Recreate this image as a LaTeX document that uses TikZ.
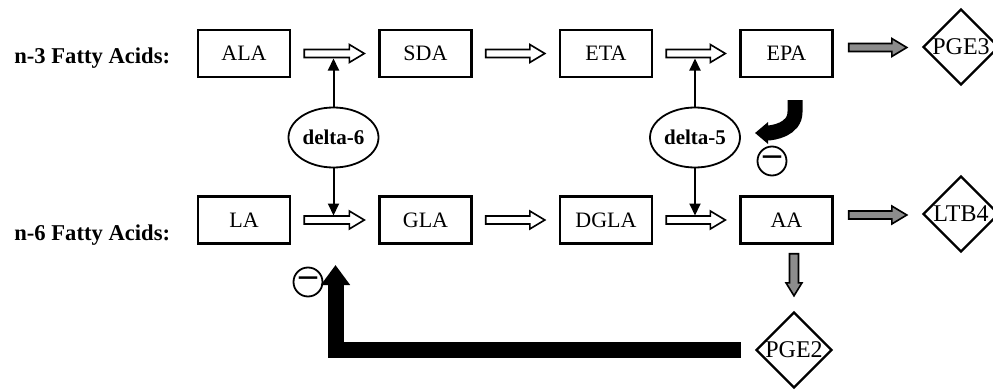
\documentclass[tikz,border=0pt]{standalone}
\usepackage{fontspec}
\setmainfont{Liberation Serif}
\usetikzlibrary{shapes.geometric,arrows.meta,calc}
\tikzset{
  box/.style={draw, line width=1.2pt, minimum width=46pt, minimum height=23.5pt,
    inner sep=0pt, font=\fontsize{11}{12}\selectfont},
  prod/.style={draw, diamond, line width=1.2pt, minimum width=38pt, minimum height=38pt,
    inner sep=0pt, font=\fontsize{12}{14}\selectfont},
  enzyme/.style={draw, ellipse, line width=0.9pt, minimum width=45pt, minimum height=30pt,
    inner sep=0pt, font=\fontsize{10.5}{12}\selectfont\bfseries},
  minus/.style={draw, circle, line width=0.9pt, minimum size=14.5pt, inner sep=0pt,
    font=\fontsize{18}{18}\selectfont\bfseries},
  family/.style={anchor=base west, inner sep=0pt, font=\fontsize{11.3}{13}\selectfont\bfseries},
  harrow/.style={draw, line width=0.8pt, fill=white,
    to path={let \p1=(\tikztostart), \p2=(\tikztotarget) in
      (\x1,\y1+2pt) -- (\x2-7.5pt,\y1+2pt) -- (\x2-7.5pt,\y1+4.5pt) -- (\x2,\y1)
      -- (\x2-7.5pt,\y1-4.5pt) -- (\x2-7.5pt,\y1-2pt) -- (\x1,\y1-2pt) -- cycle}},
  varrow/.style={draw, line width=0.8pt, fill=black!45,
    to path={let \p1=(\tikztostart), \p2=(\tikztotarget) in
      (\x2-2.25pt,\y1) -- (\x2-2.25pt,\y2+6.5pt) -- (\x2-4pt,\y2+6.5pt) -- (\x2,\y2)
      -- (\x2+4pt,\y2+6.5pt) -- (\x2+2.25pt,\y2+6.5pt) -- (\x2+2.25pt,\y1) -- cycle}},
  grey/.style={harrow, fill=black!45},
  enz/.style={line width=1pt, -{Triangle[length=6pt,width=5.5pt]}},
  feedback/.style={line width=8pt, -{Triangle[length=10pt,width=14pt]}},
}
\begin{document}
\begin{tikzpicture}[x=0.5pt, y=-0.5pt]
  \useasboundingbox (0,0) rectangle (993,391);
  % fatty acid families
  \node[family] (n3) at (14,63) {n-3 Fatty Acids:};
  \node[family] (n6) at (14,241) {n-6 Fatty Acids:};
  % n-3 pathway
  \node[box] (ala) at (244,53.5) {ALA};
  \node[box] (sda) at (425.5,53.5) {SDA};
  \node[box] (eta) at (606,53.5) {ETA};
  \node[box] (epa) at (786.5,53.5) {EPA};
  \node[prod] (pge3) at (961,47) {PGE3};
  % n-6 pathway
  \node[box] (la) at (244,220) {LA};
  \node[box] (gla) at (425.5,220) {GLA};
  \node[box] (dgla) at (606,220) {DGLA};
  \node[box] (aa) at (786.5,220) {AA};
  \node[prod] (ltb4) at (961,214) {LTB4};
  \node[prod] (pge2) at (794,350) {PGE2};
  % desaturases
  \node[enzyme] (d6) at (333.5,137.5) {delta-6};
  \node[enzyme] (d5) at (695,137.5) {delta-5};
  \node[minus] (inh5) at (772,161) {–};
  \node[minus] (inh6) at (308,282) {–};
  \coordinate (t6) at (333.5,58.5);
  \coordinate (b6) at (333.5,215.5);
  \coordinate (t5) at (695,58.5);
  \coordinate (b5) at (695,215.5);
  \coordinate (fb5) at (795,100);
  \coordinate (fb5e) at (755,133);
  \coordinate (fb6) at (335.5,265);

  \draw[harrow] ([xshift=6.5pt]ala.east) to ([xshift=-7pt]sda.west);
  \draw[harrow] ([xshift=6.5pt]sda.east) to ([xshift=-7pt]eta.west);
  \draw[harrow] ([xshift=6.5pt]eta.east) to ([xshift=-7pt]epa.west);
  \draw[grey] ([xshift=7.5pt,yshift=3pt]epa.east) to ([xshift=-7.5pt]pge3.west);
  \draw[harrow] ([xshift=6.5pt]la.east) to ([xshift=-7pt]gla.west);
  \draw[harrow] ([xshift=6.5pt]gla.east) to ([xshift=-7pt]dgla.west);
  \draw[harrow] ([xshift=6.5pt]dgla.east) to ([xshift=-7pt]aa.west);
  \draw[grey] ([xshift=7.5pt,yshift=2.5pt]aa.east) to ([xshift=-7.5pt]ltb4.west);
  \draw[varrow] ([yshift=-4.5pt]aa.south) to ([yshift=7.5pt]pge2.north);

  \draw[enz] (d6) -- (t6);
  \draw[enz] (d6) -- (b6);
  \draw[enz] (d5) -- (t5);
  \draw[enz] (d5) -- (b5);

  \draw[feedback, line width=7.5pt, -{Triangle[length=6.5pt,width=10.5pt]}]
    (fb5) -- ++(0,12) to[out=-90, in=0] (fb5e);
  \draw[feedback] ([xshift=-7pt]pge2.west) -| (fb6);
\end{tikzpicture}
\end{document}
